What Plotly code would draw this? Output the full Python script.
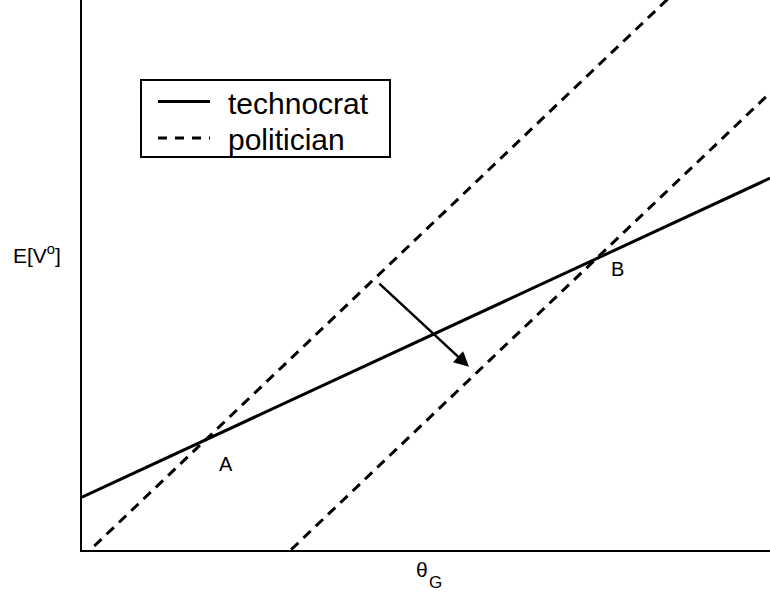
import plotly.graph_objects as go

# ---- data (unitless) ----
theta_g = [0.0, 1.0]
technocrat = [0.096, 0.676]
politician_before = [-0.014, 1.179]
politician_after = [-0.362, 0.831]
arrow_start = [0.430, 0.487]
arrow_end = [0.5625, 0.333]
point_labels = ["A", "B"]
point_x = [0.210, 0.778]
point_y = [0.156, 0.511]
legend_names = ["technocrat", "politician"]

FONT = "Liberation Sans, Arial, sans-serif"

fig = go.Figure()
fig.add_trace(go.Scatter(x=theta_g, y=technocrat, mode="lines", name=legend_names[0],
                         line=dict(color="black", width=3), showlegend=False))
fig.add_trace(go.Scatter(x=theta_g, y=politician_before, mode="lines", name=legend_names[1],
                         line=dict(color="black", width=3, dash="10px,7px"), showlegend=False))
fig.add_trace(go.Scatter(x=theta_g, y=politician_after, mode="lines", name=legend_names[1],
                         line=dict(color="black", width=3, dash="10px,7px"), showlegend=False))

annotations = []
# arrow
annotations.append(dict(x=arrow_end[0], y=arrow_end[1], ax=arrow_start[0], ay=arrow_start[1],
                        xref="x", yref="y", axref="x", ayref="y", text="", showarrow=True,
                        arrowhead=2, arrowsize=1.2, arrowwidth=2.5, arrowcolor="black", standoff=0))
# point labels
for t, px, py in zip(point_labels, point_x, point_y):
    annotations.append(dict(x=px, y=py, xref="x", yref="y", text=t, showarrow=False,
                            xanchor="center", yanchor="middle",
                            font=dict(family=FONT, size=20, color="black")))

# axis titles
W, H, L, B = 688.0, 550.0, 82.0, 42.0
def px2paper(px, py):
    return (px - L) / W, (H - py) / H

ex, ey = px2paper(37, 254)
annotations.append(dict(x=ex, y=ey, xref="paper", yref="paper", text="E[V<sup>o</sup>]",
                        xanchor="center", yanchor="middle",
                        showarrow=False, font=dict(family=FONT, size=21, color="black")))
# x title: theta with subscript G
tx, ty = px2paper(422, 569)
annotations.append(dict(x=tx, y=ty, xref="paper", yref="paper", text="θ",
                        xanchor="center", yanchor="middle",
                        showarrow=False, font=dict(family=FONT, size=21, color="black")))
gx, gy = px2paper(435, 582)
annotations.append(dict(x=gx, y=gy, xref="paper", yref="paper", text="G",
                        xanchor="center", yanchor="middle",
                        showarrow=False, font=dict(family=FONT, size=17, color="black")))

# manual legend
shapes = []
x0, y0 = px2paper(141, 80)
x1, y1 = px2paper(390, 157)
shapes.append(dict(type="rect", xref="paper", yref="paper", x0=x0, y0=y1, x1=x1, y1=y0,
                   line=dict(color="black", width=2), fillcolor="white", layer="above"))
for i, (name, dash) in enumerate(zip(legend_names, ["solid", "9px,8px"])):
    ly = 101.5 + 36.5 * i
    a0, b0 = px2paper(158, ly)
    a1, _ = px2paper(210, ly)
    shapes.append(dict(type="line", xref="paper", yref="paper", x0=a0, y0=b0, x1=a1, y1=b0,
                       line=dict(color="black", width=3, dash=dash), layer="above"))
    tx_, ty_ = px2paper(226, ly + 2)
    annotations.append(dict(x=tx_, y=ty_, xref="paper", yref="paper", text=name, showarrow=False,
                            xanchor="left", yanchor="middle",
                            font=dict(family=FONT, size=30, color="black")))

axis_common = dict(showgrid=False, zeroline=False, showticklabels=False, ticks="",
                   showline=True, linecolor="black", linewidth=2, fixedrange=True)
fig.update_layout(
    width=770, height=592,
    margin=dict(l=82, r=0, t=0, b=42),
    paper_bgcolor="white", plot_bgcolor="white",
    xaxis=dict(range=[0, 1], **axis_common),
    yaxis=dict(range=[0, 1], **axis_common),
    annotations=annotations, shapes=shapes,
    showlegend=False,
)
fig.write_html("out.html", config={"displayModeBar": False},
               post_script="document.body.style.margin='0';")
